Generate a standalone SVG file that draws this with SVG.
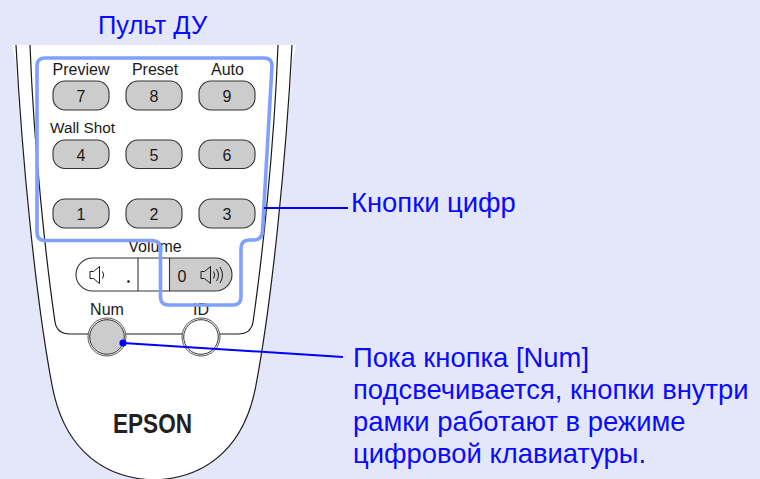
<svg xmlns="http://www.w3.org/2000/svg" width="760" height="479" viewBox="0 0 760 479">
  <style>
    .lbl { font-family: "Liberation Sans", Arial, sans-serif; fill: #1a1a1a; }
    .key { fill: #cccccc; stroke: #333333; stroke-width: 1.1; }
    .keytxt { font-family: "Liberation Sans", Arial, sans-serif; font-size: 16px; fill: #1a1a1a; text-anchor: middle; }
    .body { fill: none; stroke: #1a1a1a; stroke-width: 1.2; }
    .note { font-family: "Liberation Sans", Arial, sans-serif; font-size: 27.4px; fill: #0a0aff; }
    .lead { fill: none; stroke: #0000ff; stroke-width: 2; }
    .icon { fill: none; stroke: #1a1a1a; stroke-width: 1; stroke-linejoin: round; }
  </style>

  <rect width="760" height="479" fill="#e4e7f9"/>

  <g id="title">
    <text class="note" x="152.5" y="34" text-anchor="middle" style="font-size:25.5px">Пульт ДУ</text>
  </g>

  <g id="remote">
    <!-- housing fill -->
    <path d="M12,45 H296 L292.5,60 C286,160 272,300 256,385 C246,440 213,478 154,480 C95,478 62,440 52,385 C36,300 22,160 15.5,60 Z" fill="#ffffff"/>
    <!-- outer outline -->
    <path class="body" d="M16,45 C22,160 36,300 52,385 C62,440 95,478 154,480 C213,478 246,440 256,385 C272,300 286,160 292,45"/>
    <!-- inner panel outline -->
    <path class="body" d="M30,45 C34,150 46,260 55,322 Q57,334 70,334 H238 Q251,334 253,322 C262,260 274,150 278,45"/>

    <!-- number keys -->
    <g id="key7"><rect class="key" x="53" y="81" width="56" height="29" rx="12"/><text class="keytxt" x="81" y="102">7</text></g>
    <g id="key8"><rect class="key" x="126" y="81" width="56" height="29" rx="12"/><text class="keytxt" x="154" y="102">8</text></g>
    <g id="key9"><rect class="key" x="199" y="81" width="56" height="29" rx="12"/><text class="keytxt" x="227" y="102">9</text></g>
    <g id="key4"><rect class="key" x="53" y="140" width="56" height="28.5" rx="12"/><text class="keytxt" x="81" y="160.5">4</text></g>
    <g id="key5"><rect class="key" x="126" y="140" width="56" height="28.5" rx="12"/><text class="keytxt" x="154" y="160.5">5</text></g>
    <g id="key6"><rect class="key" x="199" y="140" width="56" height="28.5" rx="12"/><text class="keytxt" x="227" y="160.5">6</text></g>
    <g id="key1"><rect class="key" x="53" y="199" width="56" height="29" rx="12"/><text class="keytxt" x="81" y="220">1</text></g>
    <g id="key2"><rect class="key" x="126" y="199" width="56" height="29" rx="12"/><text class="keytxt" x="154" y="220">2</text></g>
    <g id="key3"><rect class="key" x="199" y="199" width="56" height="29" rx="12"/><text class="keytxt" x="227" y="220">3</text></g>

    <!-- key captions -->
    <text class="lbl" x="81" y="75" font-size="16" text-anchor="middle">Preview</text>
    <text class="lbl" x="155" y="75" font-size="16" text-anchor="middle">Preset</text>
    <text class="lbl" x="227.5" y="75" font-size="16" text-anchor="middle">Auto</text>
    <text class="lbl" x="50" y="133" font-size="15.5" textLength="65" lengthAdjust="spacingAndGlyphs">Wall Shot</text>

    <!-- volume rocker -->
    <g id="volume">
      <text class="lbl" x="155" y="252" font-size="16" text-anchor="middle">Volume</text>
      <path d="M169,258 H215.5 A16.5,16.5 0 0 1 215.5,291 H169 Z" fill="#cccccc"/>
      <path d="M92.5,258 H215.5 A16.5,16.5 0 0 1 215.5,291 H92.5 A16.5,16.5 0 0 1 92.5,258 Z" fill="none" stroke="#333333" stroke-width="1.1"/>
      <line x1="138" y1="258" x2="138" y2="291" stroke="#333333" stroke-width="1.1"/>
      <line x1="169.5" y1="258" x2="169.5" y2="291" stroke="#333333" stroke-width="1.1"/>
      <path class="icon" d="M90,271.5 H93.5 L99.5,266.5 V283.5 L93.5,278.5 H90 Z"/>
      <path class="icon" d="M102.5,271.5 Q105,275 102.5,278.5"/>
      <circle cx="128.5" cy="281.5" r="1.3" fill="#1a1a1a"/>
      <text class="keytxt" x="182" y="281.5">0</text>
      <path class="icon" d="M201,271.5 H204.5 L210.5,266.5 V283.5 L204.5,278.5 H201 Z"/>
      <path class="icon" d="M213.5,271.5 Q216,275 213.5,278.5"/>
      <path class="icon" d="M216.5,269 Q220.5,275 216.5,281"/>
      <path class="icon" d="M220,267 Q225,275 220,283"/>
    </g>

    <!-- Num / ID keys -->
    <g id="key-num">
      <text class="lbl" x="107" y="315" font-size="16" text-anchor="middle">Num</text>
      <circle cx="107" cy="337" r="19" fill="#ffffff" stroke="#444444" stroke-width="0.9"/>
      <circle cx="107" cy="337" r="17.3" fill="#cccccc" stroke="#333333" stroke-width="1"/>
    </g>
    <g id="key-id">
      <text class="lbl" x="201" y="315" font-size="16" text-anchor="middle">ID</text>
      <circle cx="201" cy="337" r="19" fill="#ffffff" stroke="#444444" stroke-width="0.9"/>
      <circle cx="201" cy="337" r="17.3" fill="#ffffff" stroke="#333333" stroke-width="1"/>
    </g>

    <text x="113" y="433" font-family="'Liberation Sans', Arial, sans-serif" font-weight="bold" font-size="27" fill="#231f20" textLength="79" lengthAdjust="spacingAndGlyphs">EPSON</text>
  </g>

  <!-- numeric keypad area outline -->
  <g id="keypad-frame">
    <path d="M45,58 H264 Q272,58 272,66 L262.5,231 Q262,240 254,240 H249 Q241,240 241,249 V297 Q241,305 233,305 H168.5 Q160.5,305 160.5,297 V249 Q160.5,240.5 152,240.5 H45 Q37,240.5 37,232 V66 Q37,58 45,58 Z" fill="none" stroke="#80a0ff" stroke-width="3.6" stroke-linejoin="round"/>
  </g>

  <g id="connectors">
    <line class="lead" x1="264" y1="208" x2="348" y2="208"/>
    <line class="lead" x1="123" y1="343" x2="343" y2="357"/>
    <circle cx="123" cy="343" r="3.6" fill="#0000ff"/>
  </g>

  <g id="label-keys">
    <text class="note" x="351" y="212">Кнопки цифр</text>
  </g>

  <g id="label-num">
    <text class="note" x="353" y="367">Пока кнопка [Num]</text>
    <text class="note" x="353" y="399">подсвечивается, кнопки внутри</text>
    <text class="note" x="353" y="431">рамки работают в режиме</text>
    <text class="note" x="353" y="463">цифровой клавиатуры.</text>
  </g>
</svg>
